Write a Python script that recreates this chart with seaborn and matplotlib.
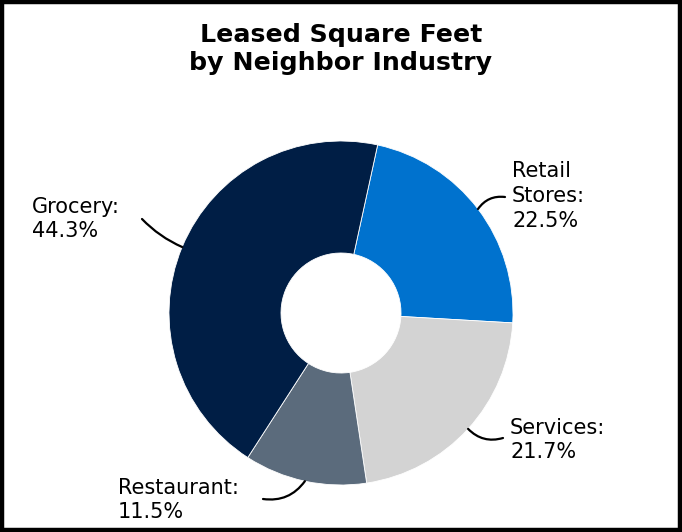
import numpy as np
import seaborn as sns
import matplotlib.pyplot as plt
from matplotlib.patches import Rectangle

# data
categories = ['Retail\nStores', 'Services', 'Restaurant', 'Grocery']
shares = [22.5, 21.7, 11.5, 44.3]
colors = ['#0072CE', '#D3D3D3', '#5B6B7C', '#001E45']
title_lines = ['Leased Square Feet', 'by Neighbor Industry']

# layout (pixel units, y measured from top)
W, H = 682, 532
center_px = (341, 313)
radius = 172
hole = 60
start_angle = 77.7
title_baselines = [42, 70]
label_pos = {'Retail\nStores': (512, 196), 'Services': (510, 440),
             'Restaurant': (118, 500), 'Grocery': (32, 219)}
line_start = {'Retail\nStores': (505, 197), 'Services': (503, 438),
              'Restaurant': (263, 499), 'Grocery': (142, 219)}
line_rad = {'Retail\nStores': 0.3, 'Services': -0.3,
            'Restaurant': 0.3, 'Grocery': 0.1}


def flip(p):
    return (p[0], H - p[1])


def main():
    sns.set_style("white")
    plt.rcParams['font.family'] = ['DejaVu Sans']
    plt.rcParams['text.color'] = 'black'

    fig = plt.figure(figsize=(W / 100, H / 100), dpi=100)
    ax = fig.add_axes([0, 0, 1, 1])

    cx, cy = flip(center_px)
    wedges, _ = ax.pie(shares, colors=colors, startangle=start_angle,
                       counterclock=False, center=(cx, cy), radius=radius,
                       wedgeprops=dict(width=radius - hole, edgecolor='white',
                                       linewidth=0.6))
    ax.set_xlim(0, W)
    ax.set_ylim(0, H)
    ax.set_aspect('equal')
    ax.axis('off')

    for w, cat, val in zip(wedges, categories, shares):
        mid = np.deg2rad((w.theta1 + w.theta2) / 2)
        xy = (cx + radius * np.cos(mid), cy + radius * np.sin(mid))
        ax.annotate('', xy=xy, xytext=flip(line_start[cat]),
                    arrowprops=dict(arrowstyle='-', color='black', lw=1.6,
                                    shrinkA=0, shrinkB=0,
                                    connectionstyle=f"arc3,rad={line_rad[cat]}"))
        ax.text(*flip(label_pos[cat]), f'{cat}:\n{val}%', fontsize=15,
                ha='left', va='center', linespacing=1.3, color='black')

    for line, base in zip(title_lines, title_baselines):
        fig.text(0.5, 1 - base / H, line, ha='center', va='baseline',
                 fontsize=18.2, fontweight='bold', color='black')

    fig.patches.append(Rectangle((0.003, 0.004), 0.994, 0.992,
                                 transform=fig.transFigure, fill=False,
                                 edgecolor='black', lw=3.2))

    fig.savefig('out.png', dpi=100)
    plt.close(fig)


if __name__ == "__main__":
    main()
